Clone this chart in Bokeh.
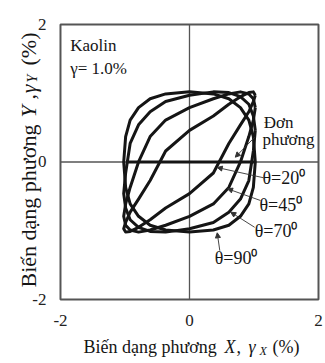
from bokeh.plotting import figure
from bokeh.models import Range1d, Arrow, NormalHead
from bokeh.core.properties import value
from bokeh.embed import file_html
from bokeh.resources import INLINE
import math

# Strain paths: gamma_X is shared, gamma_Y depends on the phase angle theta
gamma_x = [1.02, 0.99, 0.92, 0.79, 0.61, 0.37, 0.0, -0.37, -0.61, -0.79, -0.92, -0.99,
           -1.02, -0.99, -0.92, -0.79, -0.61, -0.37, 0.0, 0.37, 0.61, 0.79, 0.92, 0.99, 1.02]
gamma_y_20 = [0.97, 1.02, 1.01, 0.95, 0.84, 0.67, 0.46, 0.16, -0.27, -0.54, -0.73, -0.88,
              -0.97, -1.02, -1.01, -0.95, -0.84, -0.67, -0.46, -0.16, 0.27, 0.54, 0.73, 0.88, 0.97]
gamma_y_45 = [0.79, 0.92, 0.99, 1.02, 0.99, 0.92, 0.79, 0.61, 0.37, 0.0, -0.37, -0.61,
              -0.79, -0.92, -0.99, -1.02, -0.99, -0.92, -0.79, -0.61, -0.37, 0.0, 0.37, 0.61, 0.79]
gamma_y_70 = [0.46, 0.67, 0.84, 0.95, 1.01, 1.02, 0.97, 0.88, 0.73, 0.54, 0.27, -0.16,
              -0.46, -0.67, -0.84, -0.95, -1.01, -1.02, -0.97, -0.88, -0.73, -0.54, -0.27, 0.16, 0.46]
gamma_y_90 = [0.0, 0.37, 0.61, 0.79, 0.92, 0.99, 1.02, 0.99, 0.92, 0.79, 0.61, 0.37,
              0.0, -0.37, -0.61, -0.79, -0.92, -0.99, -1.02, -0.99, -0.92, -0.79, -0.61, -0.37, 0.0]

# Unidirectional (X only) path
uni_x = [-0.98, 1.02]
uni_y = [0.0, 0.0]

tick_values = [-2, 0, 2]
tick_text = ["-2", "0", "2"]
LIM = 2

INK = "#151515"
FONT = "Liberation Serif"

# The frame spans the whole canvas; the -2..2 box is drawn inside it so the
# axis titles (with italic symbols) can sit next to it.
p = figure(width=325, height=363, output_backend="svg", toolbar_location=None,
           x_range=Range1d(-2.930, 2.1085), y_range=Range1d(-2.931, 2.349),
           min_border=0)
p.axis.visible = False
p.grid.visible = False
p.outline_line_color = None
p.background_fill_color = "white"
p.border_fill_color = "white"

# box and zero lines
p.rect(x=[0], y=[0], width=[2 * LIM], height=[2 * LIM], fill_color=None,
       line_color="#555555", line_width=2)
p.segment(x0=[0, -LIM], y0=[-LIM, 0], x1=[0, LIM], y1=[LIM, 0],
          line_color="#555555", line_width=1.3)

for ys in (gamma_y_90, gamma_y_70, gamma_y_45, gamma_y_20):
    p.line(gamma_x, ys, line_color=INK, line_width=3, line_join="round")
p.line(uni_x, uni_y, line_color=INK, line_width=3.2)

def txt(x, y, s, size="17px", style="normal", align="left", baseline="top", angle=0):
    p.text(x=[x], y=[y], text=[s], text_font=value(FONT), text_font_size=value(size),
           text_font_style=value(style), text_color=INK, text_align=align,
           text_baseline=baseline, angle=angle)

# tick labels
p.text(x=tick_values, y=[-LIM] * 3, text=tick_text, y_offset=16,
       text_font=value(FONT), text_font_size=value("17px"),
       text_color="#222222", text_align="center", text_baseline="top")
p.text(x=[-LIM] * 3, y=tick_values, text=tick_text, x_offset=-14,
       text_font=value(FONT), text_font_size=value("17px"),
       text_color="#222222", text_align="right", text_baseline="middle")

txt(-1.85, 1.83, "Kaolin")
txt(-1.85, 1.50, "γ= 1.0%")
txt(1.15, 0.71, "Đơn")
txt(1.13, 0.46, "phương")

theta_labels = [("θ=20⁰", 1.13, -0.24), ("θ=45⁰", 1.085, -0.62),
                ("θ=70⁰", 1.01, -1.01), ("θ=90⁰", 0.39, -1.39)]
for s, x, y in theta_labels:
    txt(x, y, s, size="18px", baseline="middle")

# leader arrows: (start x, start y, tip x, tip y)
leaders = [(1.01, 0.36, 0.71, 0.07),
           (1.15, -0.23, 0.43, -0.08),
           (1.10, -0.56, 0.59, -0.39),
           (1.01, -0.95, 0.64, -0.73),
           (0.47, -1.29, 0.43, -1.03)]
for xs, ys, xe, ye in leaders:
    p.add_layout(Arrow(x_start=xs, y_start=ys, x_end=xe, y_end=ye,
                       line_color="#333333", line_width=0.9,
                       end=NormalHead(size=5, fill_color="#333333", line_color="#333333")))

# x axis title, built from pieces so the symbols can be italic
XM = -2.684
txt(-1.643, XM, "Biến dạng phương", size="18px", baseline="middle")
txt(0.543, XM, "X", size="18px", style="italic", baseline="middle")
txt(0.729, XM, ",", size="18px", baseline="middle")
txt(0.915, XM, "γ", size="18px", style="italic", baseline="middle")
txt(1.085, XM - 0.06, "X", size="12px", style="italic", baseline="middle")
txt(1.287, XM, "(%)", size="18px", baseline="middle")

# y axis title, rotated
YM = -2.496
a = math.pi / 2
txt(YM, -1.825, "Biến dạng phương", size="22px", baseline="middle", angle=a)
txt(YM, 0.647, "Y", size="22px", style="italic", baseline="middle", angle=a)
txt(YM, 0.909, ",", size="22px", baseline="middle", angle=a)
txt(YM, 1.0, "γ", size="22px", style="italic", baseline="middle", angle=a)
txt(YM + 0.062, 1.156, "Y", size="14px", style="italic", baseline="middle", angle=a)
txt(YM, 1.404, "(%)", size="22px", baseline="middle", angle=a)

open("out.html", "w").write(file_html(p, INLINE))
